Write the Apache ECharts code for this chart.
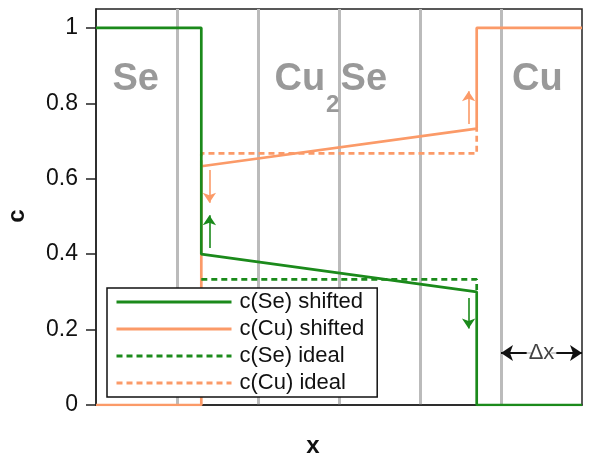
<!DOCTYPE html>
<html><head><meta charset="utf-8">
<script src="https://cdn.jsdelivr.net/npm/echarts@6/dist/echarts.min.js"></script>
<style>html,body{margin:0;padding:0;background:#fff}#c{width:590px;height:459px}</style>
</head><body><div id="c"></div>
<script>
const GREEN = '#1b8a1b';
const ORANGE = '#fb9a68';
const seriesNames = ['c(Se) shifted', 'c(Cu) shifted', 'c(Se) ideal', 'c(Cu) ideal'];
const seShifted = [[0,1],[1.3,1],[1.3,0.4],[4.7,0.3],[4.7,0],[6,0]];
const cuShifted = [[0,0],[1.3,0],[1.3,0.633],[4.7,0.733],[4.7,1],[6,1]];
const seIdeal = [[1.3,0.333],[4.7,0.333],[4.7,0.3]];
const cuIdeal = [[1.3,0.633],[1.3,0.667],[4.7,0.667],[4.7,0.733]];
const seArrows = [[[1.4,0.416],[1.4,0.503]], [[4.6,0.284],[4.6,0.203]]];
const cuArrows = [[[1.4,0.623],[1.4,0.536]], [[4.6,0.745],[4.6,0.832]]];
const dxArrows = [[[5.38,0.138],[5.0,0.138]], [[5.62,0.138],[6.0,0.138]]];
const yTicks = [0,0.2,0.4,0.6,0.8,1];
const regionLabels = [
  {text:'Se', x:0.49, y:0.862, align:'center', size:38},
  {text:'Cu', x:2.83, y:0.862, align:'right', size:38},
  {text:'2', x:2.84, y:0.795, align:'left', size:24},
  {text:'Se', x:3.02, y:0.862, align:'left', size:38},
  {text:'Cu', x:5.45, y:0.862, align:'center', size:38}
];
const dxLabel = {text:'Δx', x:5.5, y:0.138};

const FONT = 'Liberation Sans, Arial, sans-serif';
const chart = echarts.init(document.getElementById('c'));
chart.setOption({
  animation:false,
  grid:{left:96, right:8, top:9, bottom:54, outerBoundsMode:'none', containLabel:false,
    show:true, borderColor:'#222', borderWidth:1.5, backgroundColor:'transparent'},
  xAxis:{type:'value', min:0, max:6, interval:1,
    name:'x', nameLocation:'middle', nameGap:29,
    nameTextStyle:{fontFamily:FONT, fontSize:24, fontWeight:'bold', color:'#111', padding:[0,52,0,0]},
    axisLine:{show:true, lineStyle:{color:'#222', width:1.5}},
    axisTick:{show:false}, axisLabel:{show:false},
    splitLine:{show:true, showMinLine:false, showMaxLine:false, lineStyle:{color:'#bbbbbb', width:3}}},
  yAxis:{type:'value', min:0, max:1.05,
    name:'c', nameLocation:'middle', nameGap:67, nameRotate:90,
    nameTextStyle:{fontFamily:FONT, fontSize:24, fontWeight:'bold', color:'#111', padding:[0,18,0,0]},
    axisLine:{show:true, lineStyle:{color:'#222', width:1.5}},
    axisTick:{show:true, inside:false, length:10, customValues:yTicks, lineStyle:{color:'#222', width:1.5}},
    axisLabel:{show:true, customValues:yTicks, margin:18, fontFamily:FONT, fontSize:23, color:'#111',
      formatter:v=>String(+v.toFixed(2))},
    splitLine:{show:false}},
  legend:{data:seriesNames, orient:'vertical', left:107, top:288,
    backgroundColor:'#fff', borderColor:'#111', borderWidth:1.5, padding:[3,13,3,8],
    itemWidth:115, itemHeight:14, itemGap:5,
    itemStyle:{opacity:0, borderWidth:0},
    lineStyle:{width:3},
    textStyle:{fontFamily:FONT, fontSize:22, color:'#111', padding:[0,0,0,3]}},
  series:[
    {name:seriesNames[1], type:'line', data:cuShifted, symbol:'none', z:3, lineStyle:{color:ORANGE, width:2.7}, itemStyle:{color:ORANGE}},
    {name:seriesNames[0], type:'line', data:seShifted, symbol:'none', z:4, lineStyle:{color:GREEN, width:2.7}, itemStyle:{color:GREEN}},
    {name:seriesNames[2], type:'line', data:seIdeal, symbol:'none', z:3, lineStyle:{color:GREEN, width:2.7, type:[6,4]}, itemStyle:{color:GREEN}},
    {name:seriesNames[3], type:'line', data:cuIdeal, symbol:'none', z:3, lineStyle:{color:ORANGE, width:2.7, type:[6,4]}, itemStyle:{color:ORANGE}},
    {type:'lines', coordinateSystem:'cartesian2d', symbol:['none','arrow'], symbolSize:10, z:5,
      lineStyle:{color:GREEN, width:1.6, opacity:1}, data:seArrows.map(c=>({coords:c}))},
    {type:'lines', coordinateSystem:'cartesian2d', symbol:['none','arrow'], symbolSize:10, z:5,
      lineStyle:{color:ORANGE, width:1.6, opacity:1}, data:cuArrows.map(c=>({coords:c}))},
    {type:'lines', coordinateSystem:'cartesian2d', symbol:['none','arrow'], symbolSize:12, z:5,
      lineStyle:{color:'#111', width:2, opacity:1}, data:dxArrows.map(c=>({coords:c}))},
    {type:'scatter', symbolSize:0, z:6, silent:true,
      data:regionLabels.map(r=>({value:[r.x,r.y],
        label:{show:true, position:'inside', formatter:r.text, align:r.align, verticalAlign:'middle',
          fontFamily:FONT, fontSize:r.size, fontWeight:'bold', color:'#808080'}}))},
    {type:'scatter', symbolSize:0, z:6, silent:true,
      data:[{value:[dxLabel.x, dxLabel.y],
        label:{show:true, position:'inside', formatter:dxLabel.text, align:'center', verticalAlign:'middle',
          fontFamily:FONT, fontSize:22, color:'#111', backgroundColor:'#fff', padding:[0,2]}}]}
  ]
});
</script></body></html>
